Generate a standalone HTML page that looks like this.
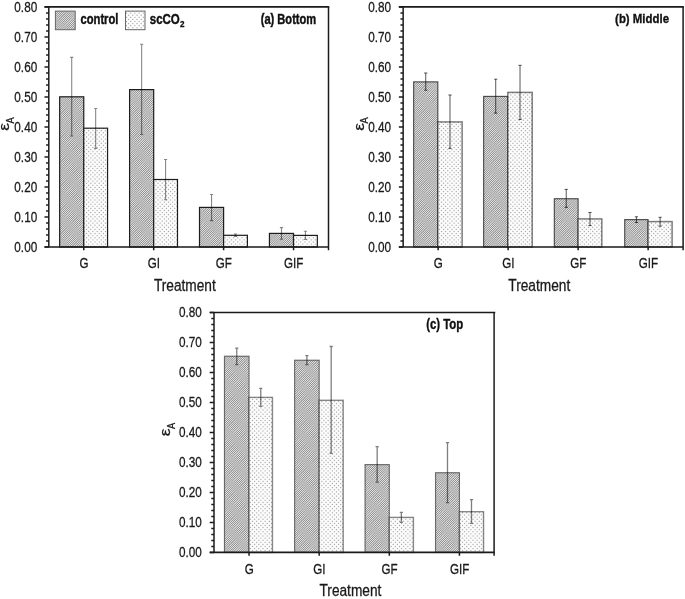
<!DOCTYPE html>
<html><head><meta charset="utf-8"><title>Figure</title>
<style>
html,body{margin:0;padding:0;background:#fff;}
body{width:685px;height:599px;overflow:hidden;font-family:"Liberation Sans", sans-serif;}
svg{display:block;font-family:"Liberation Sans", sans-serif;will-change:transform;filter:grayscale(1);}
</style></head>
<body>
<svg width="685" height="599" viewBox="0 0 685 599">
<defs>
<pattern id="pc" width="24" height="24" patternUnits="userSpaceOnUse">
<rect width="24" height="24" fill="#bababa"/>
<path fill="#909090" d="M1 0h1v1h-1zM23 0h1v1h-1zM0 1h1v1h-1zM22 1h1v1h-1zM23 2h1v1h-1zM6 4h1v1h-1zM5 5h1v1h-1zM7 5h1v1h-1zM4 6h1v1h-1zM6 6h1v1h-1zM5 7h1v1h-1zM7 7h1v1h-1zM4 8h1v1h-1zM13 10h1v1h-1zM10 11h1v1h-1zM12 11h1v1h-1zM11 12h1v1h-1zM13 12h1v1h-1zM10 13h1v1h-1zM12 13h1v1h-1zM11 14h1v1h-1zM18 16h1v1h-1zM17 17h1v1h-1zM19 17h1v1h-1zM16 18h1v1h-1zM18 18h1v1h-1zM17 19h1v1h-1zM19 19h1v1h-1zM16 20h1v1h-1zM1 22h1v1h-1zM0 23h1v1h-1zM22 23h1v1h-1z"/>
<path fill="#969696" d="M21 0h1v1h-1zM2 1h1v1h-1zM20 1h1v1h-1zM1 2h1v1h-1zM21 2h1v1h-1zM0 3h1v1h-1zM5 3h1v1h-1zM7 3h1v1h-1zM22 3h1v1h-1zM4 4h1v1h-1zM8 4h1v1h-1zM3 5h1v1h-1zM9 5h1v1h-1zM8 6h1v1h-1zM3 7h1v1h-1zM6 8h1v1h-1zM3 9h1v1h-1zM5 9h1v1h-1zM12 9h1v1h-1zM14 9h1v1h-1zM11 10h1v1h-1zM14 11h1v1h-1zM9 12h1v1h-1zM8 13h1v1h-1zM14 13h1v1h-1zM9 14h1v1h-1zM13 14h1v1h-1zM10 15h1v1h-1zM12 15h1v1h-1zM17 15h1v1h-1zM19 15h1v1h-1zM16 16h1v1h-1zM20 16h1v1h-1zM15 17h1v1h-1zM21 17h1v1h-1zM20 18h1v1h-1zM15 19h1v1h-1zM18 20h1v1h-1zM0 21h1v1h-1zM2 21h1v1h-1zM15 21h1v1h-1zM17 21h1v1h-1zM23 22h1v1h-1zM2 23h1v1h-1z"/>
<path fill="#9c9c9c" d="M3 0h1v1h-1zM6 2h1v1h-1zM8 2h1v1h-1zM19 2h1v1h-1zM9 3h1v1h-1zM20 3h1v1h-1zM10 4h1v1h-1zM21 4h1v1h-1zM23 4h1v1h-1zM2 6h1v1h-1zM1 7h1v1h-1zM9 7h1v1h-1zM2 8h1v1h-1zM8 8h1v1h-1zM13 8h1v1h-1zM7 9h1v1h-1zM10 9h1v1h-1zM4 10h1v1h-1zM9 10h1v1h-1zM15 10h1v1h-1zM8 11h1v1h-1zM16 11h1v1h-1zM15 12h1v1h-1zM7 14h1v1h-1zM18 14h1v1h-1zM20 14h1v1h-1zM8 15h1v1h-1zM21 15h1v1h-1zM9 16h1v1h-1zM11 16h1v1h-1zM22 16h1v1h-1zM14 18h1v1h-1zM13 19h1v1h-1zM21 19h1v1h-1zM1 20h1v1h-1zM14 20h1v1h-1zM20 20h1v1h-1zM19 21h1v1h-1zM22 21h1v1h-1zM3 22h1v1h-1zM16 22h1v1h-1zM21 22h1v1h-1zM4 23h1v1h-1zM20 23h1v1h-1z"/>
<path fill="#a2a2a2" d="M19 0h1v1h-1zM7 1h1v1h-1zM10 2h1v1h-1zM19 4h1v1h-1zM22 5h1v1h-1zM10 6h1v1h-1zM12 7h1v1h-1zM14 7h1v1h-1zM11 8h1v1h-1zM15 8h1v1h-1zM1 9h1v1h-1zM16 9h1v1h-1zM2 10h1v1h-1zM6 10h1v1h-1zM3 11h1v1h-1zM5 11h1v1h-1zM7 12h1v1h-1zM19 13h1v1h-1zM22 14h1v1h-1zM7 16h1v1h-1zM10 17h1v1h-1zM22 18h1v1h-1zM0 19h1v1h-1zM2 19h1v1h-1zM3 20h1v1h-1zM23 20h1v1h-1zM4 21h1v1h-1zM13 21h1v1h-1zM14 22h1v1h-1zM18 22h1v1h-1zM15 23h1v1h-1zM17 23h1v1h-1z"/>
<path fill="#a8a8a8" d="M8 0h1v1h-1zM16 0h1v1h-1zM4 1h1v1h-1zM9 1h1v1h-1zM18 1h1v1h-1zM3 2h1v1h-1zM4 2h1v1h-1zM2 3h1v1h-1zM3 3h1v1h-1zM11 3h1v1h-1zM18 3h1v1h-1zM1 4h1v1h-1zM2 4h1v1h-1zM1 5h1v1h-1zM11 5h1v1h-1zM20 5h1v1h-1zM13 6h1v1h-1zM21 6h1v1h-1zM16 7h1v1h-1zM0 8h1v1h-1zM17 8h1v1h-1zM0 10h1v1h-1zM17 10h1v1h-1zM1 11h1v1h-1zM4 12h1v1h-1zM20 12h1v1h-1zM6 13h1v1h-1zM16 13h1v1h-1zM21 13h1v1h-1zM15 14h1v1h-1zM16 14h1v1h-1zM6 15h1v1h-1zM14 15h1v1h-1zM15 15h1v1h-1zM23 15h1v1h-1zM13 16h1v1h-1zM14 16h1v1h-1zM8 17h1v1h-1zM13 17h1v1h-1zM23 17h1v1h-1zM1 18h1v1h-1zM9 18h1v1h-1zM4 19h1v1h-1zM5 20h1v1h-1zM12 20h1v1h-1zM5 22h1v1h-1zM12 22h1v1h-1zM13 23h1v1h-1z"/>
<path fill="#aeaeae" d="M5 0h1v1h-1zM6 0h1v1h-1zM10 0h1v1h-1zM14 0h1v1h-1zM5 1h1v1h-1zM11 1h1v1h-1zM15 1h1v1h-1zM12 2h1v1h-1zM17 2h1v1h-1zM12 4h1v1h-1zM17 4h1v1h-1zM0 5h1v1h-1zM14 5h1v1h-1zM18 5h1v1h-1zM0 6h1v1h-1zM15 6h1v1h-1zM19 6h1v1h-1zM23 6h1v1h-1zM23 7h1v1h-1zM18 9h1v1h-1zM23 9h1v1h-1zM18 11h1v1h-1zM2 12h1v1h-1zM17 12h1v1h-1zM18 12h1v1h-1zM22 12h1v1h-1zM3 13h1v1h-1zM17 13h1v1h-1zM23 13h1v1h-1zM0 14h1v1h-1zM5 14h1v1h-1zM0 16h1v1h-1zM5 16h1v1h-1zM2 17h1v1h-1zM6 17h1v1h-1zM12 17h1v1h-1zM3 18h1v1h-1zM7 18h1v1h-1zM11 18h1v1h-1zM12 18h1v1h-1zM11 19h1v1h-1zM6 21h1v1h-1zM11 21h1v1h-1zM6 23h1v1h-1z"/>
<path fill="#b4b4b4" d="M12 0h1v1h-1zM13 1h1v1h-1zM13 3h1v1h-1zM16 3h1v1h-1zM16 5h1v1h-1zM17 6h1v1h-1zM18 7h1v1h-1zM20 7h1v1h-1zM22 7h1v1h-1zM19 8h1v1h-1zM21 8h1v1h-1zM22 8h1v1h-1zM19 10h1v1h-1zM20 10h1v1h-1zM22 10h1v1h-1zM19 11h1v1h-1zM21 11h1v1h-1zM23 11h1v1h-1zM0 12h1v1h-1zM1 13h1v1h-1zM1 15h1v1h-1zM4 15h1v1h-1zM4 17h1v1h-1zM5 18h1v1h-1zM6 19h1v1h-1zM8 19h1v1h-1zM10 19h1v1h-1zM7 20h1v1h-1zM9 20h1v1h-1zM10 20h1v1h-1zM7 22h1v1h-1zM8 22h1v1h-1zM10 22h1v1h-1zM7 23h1v1h-1zM9 23h1v1h-1zM11 23h1v1h-1z"/>
<path fill="#c0c0c0" d="M11 0h1v1h-1zM12 1h1v1h-1zM14 1h1v1h-1zM16 1h1v1h-1zM13 2h1v1h-1zM15 2h1v1h-1zM16 2h1v1h-1zM13 4h1v1h-1zM14 4h1v1h-1zM16 4h1v1h-1zM13 5h1v1h-1zM15 5h1v1h-1zM17 5h1v1h-1zM18 6h1v1h-1zM19 7h1v1h-1zM19 9h1v1h-1zM22 9h1v1h-1zM22 11h1v1h-1zM23 12h1v1h-1zM0 13h1v1h-1zM2 13h1v1h-1zM4 13h1v1h-1zM1 14h1v1h-1zM3 14h1v1h-1zM4 14h1v1h-1zM1 16h1v1h-1zM2 16h1v1h-1zM4 16h1v1h-1zM1 17h1v1h-1zM3 17h1v1h-1zM5 17h1v1h-1zM6 18h1v1h-1zM7 19h1v1h-1zM7 21h1v1h-1zM10 21h1v1h-1zM10 23h1v1h-1z"/>
<path fill="#c6c6c6" d="M9 0h1v1h-1zM13 0h1v1h-1zM17 0h1v1h-1zM18 0h1v1h-1zM17 1h1v1h-1zM12 3h1v1h-1zM17 3h1v1h-1zM12 5h1v1h-1zM11 6h1v1h-1zM12 6h1v1h-1zM16 6h1v1h-1zM20 6h1v1h-1zM11 7h1v1h-1zM17 7h1v1h-1zM21 7h1v1h-1zM18 8h1v1h-1zM23 8h1v1h-1zM18 10h1v1h-1zM23 10h1v1h-1zM0 11h1v1h-1zM6 11h1v1h-1zM20 11h1v1h-1zM1 12h1v1h-1zM5 12h1v1h-1zM6 12h1v1h-1zM21 12h1v1h-1zM5 13h1v1h-1zM0 15h1v1h-1zM5 15h1v1h-1zM0 17h1v1h-1zM0 18h1v1h-1zM4 18h1v1h-1zM8 18h1v1h-1zM23 18h1v1h-1zM5 19h1v1h-1zM9 19h1v1h-1zM23 19h1v1h-1zM6 20h1v1h-1zM11 20h1v1h-1zM6 22h1v1h-1zM11 22h1v1h-1zM8 23h1v1h-1zM12 23h1v1h-1zM18 23h1v1h-1z"/>
<path fill="#cccccc" d="M7 0h1v1h-1zM15 0h1v1h-1zM10 1h1v1h-1zM11 2h1v1h-1zM18 2h1v1h-1zM11 4h1v1h-1zM18 4h1v1h-1zM19 5h1v1h-1zM14 6h1v1h-1zM22 6h1v1h-1zM0 7h1v1h-1zM10 7h1v1h-1zM15 7h1v1h-1zM9 8h1v1h-1zM10 8h1v1h-1zM0 9h1v1h-1zM8 9h1v1h-1zM9 9h1v1h-1zM17 9h1v1h-1zM7 10h1v1h-1zM8 10h1v1h-1zM2 11h1v1h-1zM7 11h1v1h-1zM17 11h1v1h-1zM3 12h1v1h-1zM19 12h1v1h-1zM22 13h1v1h-1zM6 14h1v1h-1zM23 14h1v1h-1zM6 16h1v1h-1zM23 16h1v1h-1zM7 17h1v1h-1zM2 18h1v1h-1zM10 18h1v1h-1zM3 19h1v1h-1zM12 19h1v1h-1zM22 19h1v1h-1zM21 20h1v1h-1zM22 20h1v1h-1zM5 21h1v1h-1zM12 21h1v1h-1zM20 21h1v1h-1zM21 21h1v1h-1zM19 22h1v1h-1zM20 22h1v1h-1zM5 23h1v1h-1zM14 23h1v1h-1zM19 23h1v1h-1z"/>
<path fill="#d2d2d2" d="M4 0h1v1h-1zM6 1h1v1h-1zM8 1h1v1h-1zM5 2h1v1h-1zM9 2h1v1h-1zM10 3h1v1h-1zM19 3h1v1h-1zM0 4h1v1h-1zM20 4h1v1h-1zM21 5h1v1h-1zM23 5h1v1h-1zM1 6h1v1h-1zM13 7h1v1h-1zM16 8h1v1h-1zM1 10h1v1h-1zM4 11h1v1h-1zM16 12h1v1h-1zM18 13h1v1h-1zM20 13h1v1h-1zM17 14h1v1h-1zM21 14h1v1h-1zM7 15h1v1h-1zM22 15h1v1h-1zM8 16h1v1h-1zM12 16h1v1h-1zM9 17h1v1h-1zM11 17h1v1h-1zM13 18h1v1h-1zM1 19h1v1h-1zM4 20h1v1h-1zM13 22h1v1h-1zM16 23h1v1h-1z"/>
<path fill="#d8d8d8" d="M20 0h1v1h-1zM3 1h1v1h-1zM19 1h1v1h-1zM2 2h1v1h-1zM7 2h1v1h-1zM20 2h1v1h-1zM1 3h1v1h-1zM4 3h1v1h-1zM3 4h1v1h-1zM9 4h1v1h-1zM22 4h1v1h-1zM2 5h1v1h-1zM10 5h1v1h-1zM9 6h1v1h-1zM1 8h1v1h-1zM12 8h1v1h-1zM14 8h1v1h-1zM2 9h1v1h-1zM15 9h1v1h-1zM3 10h1v1h-1zM5 10h1v1h-1zM16 10h1v1h-1zM8 12h1v1h-1zM7 13h1v1h-1zM15 13h1v1h-1zM8 14h1v1h-1zM14 14h1v1h-1zM19 14h1v1h-1zM13 15h1v1h-1zM16 15h1v1h-1zM10 16h1v1h-1zM15 16h1v1h-1zM21 16h1v1h-1zM14 17h1v1h-1zM22 17h1v1h-1zM21 18h1v1h-1zM0 20h1v1h-1zM2 20h1v1h-1zM13 20h1v1h-1zM3 21h1v1h-1zM14 21h1v1h-1zM4 22h1v1h-1zM15 22h1v1h-1zM17 22h1v1h-1z"/>
<path fill="#dedede" d="M2 0h1v1h-1zM21 1h1v1h-1zM0 2h1v1h-1zM6 3h1v1h-1zM8 3h1v1h-1zM21 3h1v1h-1zM23 3h1v1h-1zM5 4h1v1h-1zM8 5h1v1h-1zM3 6h1v1h-1zM2 7h1v1h-1zM8 7h1v1h-1zM3 8h1v1h-1zM7 8h1v1h-1zM4 9h1v1h-1zM6 9h1v1h-1zM11 9h1v1h-1zM13 9h1v1h-1zM10 10h1v1h-1zM14 10h1v1h-1zM9 11h1v1h-1zM15 11h1v1h-1zM14 12h1v1h-1zM9 13h1v1h-1zM12 14h1v1h-1zM9 15h1v1h-1zM11 15h1v1h-1zM18 15h1v1h-1zM20 15h1v1h-1zM17 16h1v1h-1zM20 17h1v1h-1zM15 18h1v1h-1zM14 19h1v1h-1zM20 19h1v1h-1zM15 20h1v1h-1zM19 20h1v1h-1zM1 21h1v1h-1zM16 21h1v1h-1zM18 21h1v1h-1zM23 21h1v1h-1zM2 22h1v1h-1zM22 22h1v1h-1zM3 23h1v1h-1zM21 23h1v1h-1z"/>
<path fill="#e4e4e4" d="M0 0h1v1h-1zM22 0h1v1h-1zM1 1h1v1h-1zM23 1h1v1h-1zM22 2h1v1h-1zM7 4h1v1h-1zM4 5h1v1h-1zM6 5h1v1h-1zM5 6h1v1h-1zM7 6h1v1h-1zM4 7h1v1h-1zM6 7h1v1h-1zM5 8h1v1h-1zM12 10h1v1h-1zM11 11h1v1h-1zM13 11h1v1h-1zM10 12h1v1h-1zM12 12h1v1h-1zM11 13h1v1h-1zM13 13h1v1h-1zM10 14h1v1h-1zM19 16h1v1h-1zM16 17h1v1h-1zM18 17h1v1h-1zM17 18h1v1h-1zM19 18h1v1h-1zM16 19h1v1h-1zM18 19h1v1h-1zM17 20h1v1h-1zM0 22h1v1h-1zM1 23h1v1h-1zM23 23h1v1h-1z"/>
</pattern>
<pattern id="ps" width="21" height="21" patternUnits="userSpaceOnUse">
<rect width="21" height="21" fill="#fcfcfc"/>
<path fill="#a8a8a8" d="M0 0h1v1h-1z"/>
<path fill="#acacac" d="M2 2h1v1h-1zM19 2h1v1h-1zM2 19h1v1h-1zM19 19h1v1h-1z"/>
<path fill="#b0b0b0" d="M4 0h1v1h-1zM17 0h1v1h-1zM0 4h1v1h-1zM0 17h1v1h-1z"/>
<path fill="#b4b4b4" d="M4 4h1v1h-1zM17 4h1v1h-1zM4 17h1v1h-1zM17 17h1v1h-1z"/>
<path fill="#b8b8b8" d="M6 2h1v1h-1zM15 2h1v1h-1zM2 6h1v1h-1zM19 6h1v1h-1zM2 15h1v1h-1zM19 15h1v1h-1zM6 19h1v1h-1zM15 19h1v1h-1z"/>
<path fill="#c0c0c0" d="M8 0h1v1h-1zM13 0h1v1h-1zM0 8h1v1h-1zM0 13h1v1h-1z"/>
<path fill="#c4c4c4" d="M6 6h1v1h-1zM15 6h1v1h-1zM6 15h1v1h-1zM15 15h1v1h-1z"/>
<path fill="#c8c8c8" d="M8 4h1v1h-1zM13 4h1v1h-1zM4 8h1v1h-1zM17 8h1v1h-1zM4 13h1v1h-1zM17 13h1v1h-1zM8 17h1v1h-1zM13 17h1v1h-1z"/>
<path fill="#cccccc" d="M10 2h1v1h-1zM11 2h1v1h-1zM2 10h1v1h-1zM19 10h1v1h-1zM2 11h1v1h-1zM19 11h1v1h-1zM10 19h1v1h-1zM11 19h1v1h-1z"/>
<path fill="#d4d4d4" d="M10 6h1v1h-1zM11 6h1v1h-1zM8 8h1v1h-1zM13 8h1v1h-1zM6 10h1v1h-1zM15 10h1v1h-1zM6 11h1v1h-1zM15 11h1v1h-1zM8 13h1v1h-1zM13 13h1v1h-1zM10 15h1v1h-1zM11 15h1v1h-1z"/>
<path fill="#d8d8d8" d="M9 0h1v1h-1zM12 0h1v1h-1zM0 9h1v1h-1zM0 12h1v1h-1z"/>
<path fill="#dcdcdc" d="M9 4h1v1h-1zM12 4h1v1h-1zM4 9h1v1h-1zM17 9h1v1h-1zM4 12h1v1h-1zM17 12h1v1h-1zM9 17h1v1h-1zM12 17h1v1h-1z"/>
<path fill="#e0e0e0" d="M7 2h1v1h-1zM14 2h1v1h-1zM2 7h1v1h-1zM19 7h1v1h-1zM10 10h1v1h-1zM11 10h1v1h-1zM10 11h1v1h-1zM11 11h1v1h-1zM2 14h1v1h-1zM19 14h1v1h-1zM7 19h1v1h-1zM14 19h1v1h-1z"/>
<path fill="#e4e4e4" d="M7 6h1v1h-1zM14 6h1v1h-1zM6 7h1v1h-1zM15 7h1v1h-1zM9 8h1v1h-1zM12 8h1v1h-1zM8 9h1v1h-1zM13 9h1v1h-1zM8 12h1v1h-1zM13 12h1v1h-1zM9 13h1v1h-1zM12 13h1v1h-1zM6 14h1v1h-1zM15 14h1v1h-1zM7 15h1v1h-1zM14 15h1v1h-1z"/>
<path fill="#e8e8e8" d="M5 0h1v1h-1zM16 0h1v1h-1zM5 4h1v1h-1zM16 4h1v1h-1zM0 5h1v1h-1zM4 5h1v1h-1zM17 5h1v1h-1zM0 16h1v1h-1zM4 16h1v1h-1zM17 16h1v1h-1zM5 17h1v1h-1zM16 17h1v1h-1z"/>
<path fill="#ececec" d="M10 7h1v1h-1zM11 7h1v1h-1zM9 9h1v1h-1zM12 9h1v1h-1zM7 10h1v1h-1zM14 10h1v1h-1zM7 11h1v1h-1zM14 11h1v1h-1zM9 12h1v1h-1zM12 12h1v1h-1zM10 14h1v1h-1zM11 14h1v1h-1z"/>
<path fill="#f0f0f0" d="M3 2h1v1h-1zM18 2h1v1h-1zM2 3h1v1h-1zM6 3h1v1h-1zM15 3h1v1h-1zM19 3h1v1h-1zM8 5h1v1h-1zM13 5h1v1h-1zM3 6h1v1h-1zM18 6h1v1h-1zM5 8h1v1h-1zM16 8h1v1h-1zM5 13h1v1h-1zM16 13h1v1h-1zM3 15h1v1h-1zM18 15h1v1h-1zM8 16h1v1h-1zM13 16h1v1h-1zM2 18h1v1h-1zM6 18h1v1h-1zM15 18h1v1h-1zM19 18h1v1h-1zM3 19h1v1h-1zM18 19h1v1h-1z"/>
<path fill="#f4f4f4" d="M1 0h1v1h-1zM20 0h1v1h-1zM0 1h1v1h-1zM4 1h1v1h-1zM8 1h1v1h-1zM13 1h1v1h-1zM17 1h1v1h-1zM10 3h1v1h-1zM11 3h1v1h-1zM1 4h1v1h-1zM20 4h1v1h-1zM9 5h1v1h-1zM12 5h1v1h-1zM7 7h1v1h-1zM14 7h1v1h-1zM1 8h1v1h-1zM20 8h1v1h-1zM5 9h1v1h-1zM16 9h1v1h-1zM3 10h1v1h-1zM18 10h1v1h-1zM3 11h1v1h-1zM18 11h1v1h-1zM5 12h1v1h-1zM16 12h1v1h-1zM1 13h1v1h-1zM20 13h1v1h-1zM7 14h1v1h-1zM14 14h1v1h-1zM9 16h1v1h-1zM12 16h1v1h-1zM1 17h1v1h-1zM20 17h1v1h-1zM10 18h1v1h-1zM11 18h1v1h-1zM0 20h1v1h-1zM4 20h1v1h-1zM8 20h1v1h-1zM13 20h1v1h-1zM17 20h1v1h-1z"/>
<path fill="#f8f8f8" d="M3 0h1v1h-1zM18 0h1v1h-1zM2 1h1v1h-1zM5 1h1v1h-1zM6 1h1v1h-1zM9 1h1v1h-1zM10 1h1v1h-1zM11 1h1v1h-1zM12 1h1v1h-1zM15 1h1v1h-1zM16 1h1v1h-1zM19 1h1v1h-1zM1 2h1v1h-1zM20 2h1v1h-1zM0 3h1v1h-1zM3 3h1v1h-1zM4 3h1v1h-1zM7 3h1v1h-1zM8 3h1v1h-1zM13 3h1v1h-1zM14 3h1v1h-1zM17 3h1v1h-1zM18 3h1v1h-1zM3 4h1v1h-1zM18 4h1v1h-1zM1 5h1v1h-1zM5 5h1v1h-1zM16 5h1v1h-1zM20 5h1v1h-1zM1 6h1v1h-1zM20 6h1v1h-1zM3 7h1v1h-1zM18 7h1v1h-1zM3 8h1v1h-1zM18 8h1v1h-1zM1 9h1v1h-1zM20 9h1v1h-1zM1 10h1v1h-1zM20 10h1v1h-1zM1 11h1v1h-1zM20 11h1v1h-1zM1 12h1v1h-1zM20 12h1v1h-1zM3 13h1v1h-1zM18 13h1v1h-1zM3 14h1v1h-1zM18 14h1v1h-1zM1 15h1v1h-1zM20 15h1v1h-1zM1 16h1v1h-1zM5 16h1v1h-1zM16 16h1v1h-1zM20 16h1v1h-1zM3 17h1v1h-1zM18 17h1v1h-1zM0 18h1v1h-1zM3 18h1v1h-1zM4 18h1v1h-1zM7 18h1v1h-1zM8 18h1v1h-1zM13 18h1v1h-1zM14 18h1v1h-1zM17 18h1v1h-1zM18 18h1v1h-1zM1 19h1v1h-1zM20 19h1v1h-1zM2 20h1v1h-1zM5 20h1v1h-1zM6 20h1v1h-1zM9 20h1v1h-1zM10 20h1v1h-1zM11 20h1v1h-1zM12 20h1v1h-1zM15 20h1v1h-1zM16 20h1v1h-1zM19 20h1v1h-1z"/>
</pattern>
</defs>
<rect width="685" height="599" fill="#fff"/>
<rect x="59.66" y="96.80" width="24.10" height="150.20" fill="url(#pc)" stroke="#1c1c1c" stroke-width="1.2"/>
<rect x="83.76" y="128.20" width="23.80" height="118.80" fill="url(#ps)" stroke="#1c1c1c" stroke-width="1.2"/>
<rect x="129.59" y="89.60" width="24.10" height="157.40" fill="url(#pc)" stroke="#1c1c1c" stroke-width="1.2"/>
<rect x="153.69" y="179.50" width="23.80" height="67.50" fill="url(#ps)" stroke="#1c1c1c" stroke-width="1.2"/>
<rect x="199.51" y="207.40" width="24.10" height="39.60" fill="url(#pc)" stroke="#1c1c1c" stroke-width="1.2"/>
<rect x="223.61" y="235.30" width="23.80" height="11.70" fill="url(#ps)" stroke="#1c1c1c" stroke-width="1.2"/>
<rect x="269.44" y="233.40" width="24.10" height="13.60" fill="url(#pc)" stroke="#1c1c1c" stroke-width="1.2"/>
<rect x="293.54" y="235.40" width="23.80" height="11.60" fill="url(#ps)" stroke="#1c1c1c" stroke-width="1.2"/>
<path d="M71.71 57.40V136.00M70.11 57.40H73.31M70.11 136.00H73.31" stroke="#000" stroke-opacity="0.47" stroke-width="1.1" fill="none"/>
<path d="M95.66 108.50V148.40M94.06 108.50H97.26M94.06 148.40H97.26" stroke="#000" stroke-opacity="0.47" stroke-width="1.1" fill="none"/>
<path d="M141.64 44.20V134.50M140.04 44.20H143.24M140.04 134.50H143.24" stroke="#000" stroke-opacity="0.47" stroke-width="1.1" fill="none"/>
<path d="M165.59 159.50V199.70M163.99 159.50H167.19M163.99 199.70H167.19" stroke="#000" stroke-opacity="0.47" stroke-width="1.1" fill="none"/>
<path d="M211.56 194.50V220.60M209.96 194.50H213.16M209.96 220.60H213.16" stroke="#000" stroke-opacity="0.47" stroke-width="1.1" fill="none"/>
<path d="M235.51 234.00V236.40M233.91 234.00H237.11M233.91 236.40H237.11" stroke="#000" stroke-opacity="0.47" stroke-width="1.1" fill="none"/>
<path d="M281.49 227.60V239.20M279.89 227.60H283.09M279.89 239.20H283.09" stroke="#000" stroke-opacity="0.47" stroke-width="1.1" fill="none"/>
<path d="M305.44 231.20V239.40M303.84 231.20H307.04M303.84 239.40H307.04" stroke="#000" stroke-opacity="0.47" stroke-width="1.1" fill="none"/>
<path d="M48.80 247.00V6.95M328.50 6.95V250.20" fill="none" stroke="#1c1c1c" stroke-width="1.5"/>
<path d="M44.50 247.00H328.50M44.50 6.95H329.25" fill="none" stroke="#1a1a1a" stroke-width="1.7"/>
<path d="M44.50 247.00H48.80M46.10 241.00H48.80M46.10 235.00H48.80M46.10 229.00H48.80M46.10 223.00H48.80M44.50 216.99H48.80M46.10 210.99H48.80M46.10 204.99H48.80M46.10 198.99H48.80M46.10 192.99H48.80M44.50 186.99H48.80M46.10 180.99H48.80M46.10 174.98H48.80M46.10 168.98H48.80M46.10 162.98H48.80M44.50 156.98H48.80M46.10 150.98H48.80M46.10 144.98H48.80M46.10 138.98H48.80M46.10 132.98H48.80M44.50 126.97H48.80M46.10 120.97H48.80M46.10 114.97H48.80M46.10 108.97H48.80M46.10 102.97H48.80M44.50 96.97H48.80M46.10 90.97H48.80M46.10 84.97H48.80M46.10 78.96H48.80M46.10 72.96H48.80M44.50 66.96H48.80M46.10 60.96H48.80M46.10 54.96H48.80M46.10 48.96H48.80M46.10 42.96H48.80M44.50 36.96H48.80M46.10 30.95H48.80M46.10 24.95H48.80M46.10 18.95H48.80M46.10 12.95H48.80M44.50 6.95H48.80" stroke="#1c1c1c" stroke-width="1.4" fill="none"/>
<path d="M83.76 247.00V250.20M153.69 247.00V250.20M223.61 247.00V250.20M293.54 247.00V250.20" stroke="#1c1c1c" stroke-width="1.5" fill="none"/>
<text transform="translate(37.20 251.65) scale(0.768 1)" text-anchor="end" font-size="15.3" fill="#1a1a1a" stroke="#1a1a1a" stroke-width="0.3">0.00</text>
<text transform="translate(37.20 221.64) scale(0.768 1)" text-anchor="end" font-size="15.3" fill="#1a1a1a" stroke="#1a1a1a" stroke-width="0.3">0.10</text>
<text transform="translate(37.20 191.64) scale(0.768 1)" text-anchor="end" font-size="15.3" fill="#1a1a1a" stroke="#1a1a1a" stroke-width="0.3">0.20</text>
<text transform="translate(37.20 161.63) scale(0.768 1)" text-anchor="end" font-size="15.3" fill="#1a1a1a" stroke="#1a1a1a" stroke-width="0.3">0.30</text>
<text transform="translate(37.20 131.62) scale(0.768 1)" text-anchor="end" font-size="15.3" fill="#1a1a1a" stroke="#1a1a1a" stroke-width="0.3">0.40</text>
<text transform="translate(37.20 101.62) scale(0.768 1)" text-anchor="end" font-size="15.3" fill="#1a1a1a" stroke="#1a1a1a" stroke-width="0.3">0.50</text>
<text transform="translate(37.20 71.61) scale(0.768 1)" text-anchor="end" font-size="15.3" fill="#1a1a1a" stroke="#1a1a1a" stroke-width="0.3">0.60</text>
<text transform="translate(37.20 41.61) scale(0.768 1)" text-anchor="end" font-size="15.3" fill="#1a1a1a" stroke="#1a1a1a" stroke-width="0.3">0.70</text>
<text transform="translate(37.20 11.60) scale(0.768 1)" text-anchor="end" font-size="15.3" fill="#1a1a1a" stroke="#1a1a1a" stroke-width="0.3">0.80</text>
<text transform="translate(83.96 268.10) scale(0.775 1)" text-anchor="middle" font-size="15" fill="#1a1a1a" stroke="#1a1a1a" stroke-width="0.3">G</text>
<text transform="translate(153.89 268.10) scale(0.775 1)" text-anchor="middle" font-size="15" fill="#1a1a1a" stroke="#1a1a1a" stroke-width="0.3">GI</text>
<text transform="translate(223.81 268.10) scale(0.775 1)" text-anchor="middle" font-size="15" fill="#1a1a1a" stroke="#1a1a1a" stroke-width="0.3">GF</text>
<text transform="translate(293.74 268.10) scale(0.775 1)" text-anchor="middle" font-size="15" fill="#1a1a1a" stroke="#1a1a1a" stroke-width="0.3">GIF</text>
<text transform="translate(184.80 291.00) scale(0.825 1)" text-anchor="middle" font-size="16.6" fill="#1a1a1a" stroke="#1a1a1a" stroke-width="0.3">Treatment</text>
<g transform="translate(9.20 130.78) rotate(-90)"><text font-size="15.4" fill="#1a1a1a" stroke="#1a1a1a" stroke-width="0.25" transform="scale(1.14 1)">ε</text><text font-size="10.5" fill="#1a1a1a" stroke="#1a1a1a" stroke-width="0.25" transform="translate(7.25 4.8) scale(0.88 1)">A</text></g>
<text x="260.70" y="23.65" font-size="14.6" font-weight="bold" fill="#111" stroke="#111" stroke-width="0.45" textLength="55.5" lengthAdjust="spacingAndGlyphs">(a) Bottom</text>
<rect x="55.40" y="11.10" width="19.8" height="18.60" fill="url(#pc)" stroke="#666" stroke-width="1"/>
<text x="80.50" y="24.35" font-size="14.6" font-weight="bold" fill="#111" stroke="#111" stroke-width="0.45" textLength="37.9" lengthAdjust="spacingAndGlyphs">control</text>
<rect x="125.50" y="11.10" width="19.5" height="18.60" fill="url(#ps)" stroke="#666" stroke-width="1"/>
<text x="149.80" y="24.35" font-size="14.6" font-weight="bold" fill="#111" stroke="#111" stroke-width="0.45" textLength="30" lengthAdjust="spacingAndGlyphs">scCO</text>
<text x="180.10" y="26.95" font-size="9.0" font-weight="bold" fill="#111" stroke="#111" stroke-width="0.3" textLength="4.5" lengthAdjust="spacingAndGlyphs">2</text>
<rect x="413.64" y="81.85" width="24.20" height="165.15" fill="url(#pc)" stroke="#000" stroke-opacity="0.66" stroke-width="1.15"/>
<rect x="437.84" y="121.90" width="24.30" height="125.10" fill="url(#ps)" stroke="#000" stroke-opacity="0.5" stroke-width="1.5"/>
<rect x="483.63" y="96.40" width="24.20" height="150.60" fill="url(#pc)" stroke="#000" stroke-opacity="0.66" stroke-width="1.15"/>
<rect x="507.83" y="92.40" width="24.40" height="154.60" fill="url(#ps)" stroke="#000" stroke-opacity="0.5" stroke-width="1.5"/>
<rect x="554.32" y="198.70" width="23.80" height="48.30" fill="url(#pc)" stroke="#000" stroke-opacity="0.66" stroke-width="1.15"/>
<rect x="578.12" y="218.90" width="23.70" height="28.10" fill="url(#ps)" stroke="#000" stroke-opacity="0.5" stroke-width="1.5"/>
<rect x="624.71" y="219.60" width="23.40" height="27.40" fill="url(#pc)" stroke="#000" stroke-opacity="0.66" stroke-width="1.15"/>
<rect x="648.11" y="221.60" width="24.00" height="25.40" fill="url(#ps)" stroke="#000" stroke-opacity="0.5" stroke-width="1.5"/>
<path d="M425.74 73.00V90.20M424.14 73.00H427.34M424.14 90.20H427.34" stroke="#000" stroke-opacity="0.66" stroke-width="1.0" fill="none"/>
<path d="M449.99 95.00V148.40M448.39 95.00H451.59M448.39 148.40H451.59" stroke="#000" stroke-opacity="0.66" stroke-width="1.0" fill="none"/>
<path d="M495.73 79.20V113.10M494.13 79.20H497.33M494.13 113.10H497.33" stroke="#000" stroke-opacity="0.66" stroke-width="1.0" fill="none"/>
<path d="M520.03 65.30V119.50M518.43 65.30H521.63M518.43 119.50H521.63" stroke="#000" stroke-opacity="0.66" stroke-width="1.0" fill="none"/>
<path d="M566.22 189.40V207.40M564.62 189.40H567.82M564.62 207.40H567.82" stroke="#000" stroke-opacity="0.66" stroke-width="1.0" fill="none"/>
<path d="M589.97 212.50V225.60M588.37 212.50H591.57M588.37 225.60H591.57" stroke="#000" stroke-opacity="0.66" stroke-width="1.0" fill="none"/>
<path d="M636.41 216.80V222.50M634.81 216.80H638.01M634.81 222.50H638.01" stroke="#000" stroke-opacity="0.66" stroke-width="1.0" fill="none"/>
<path d="M660.11 217.30V226.20M658.51 217.30H661.71M658.51 226.20H661.71" stroke="#000" stroke-opacity="0.66" stroke-width="1.0" fill="none"/>
<path d="M403.15 247.00V6.95M683.10 6.95V250.20" fill="none" stroke="#1c1c1c" stroke-width="1.5"/>
<path d="M398.85 247.00H683.10M398.85 6.95H683.85" fill="none" stroke="#1a1a1a" stroke-width="1.7"/>
<path d="M398.85 247.00H403.15M400.45 241.00H403.15M400.45 235.00H403.15M400.45 229.00H403.15M400.45 223.00H403.15M398.85 216.99H403.15M400.45 210.99H403.15M400.45 204.99H403.15M400.45 198.99H403.15M400.45 192.99H403.15M398.85 186.99H403.15M400.45 180.99H403.15M400.45 174.98H403.15M400.45 168.98H403.15M400.45 162.98H403.15M398.85 156.98H403.15M400.45 150.98H403.15M400.45 144.98H403.15M400.45 138.98H403.15M400.45 132.98H403.15M398.85 126.97H403.15M400.45 120.97H403.15M400.45 114.97H403.15M400.45 108.97H403.15M400.45 102.97H403.15M398.85 96.97H403.15M400.45 90.97H403.15M400.45 84.97H403.15M400.45 78.96H403.15M400.45 72.96H403.15M398.85 66.96H403.15M400.45 60.96H403.15M400.45 54.96H403.15M400.45 48.96H403.15M400.45 42.96H403.15M398.85 36.96H403.15M400.45 30.95H403.15M400.45 24.95H403.15M400.45 18.95H403.15M400.45 12.95H403.15M398.85 6.95H403.15" stroke="#1c1c1c" stroke-width="1.4" fill="none"/>
<path d="M438.14 247.00V250.20M508.13 247.00V250.20M578.12 247.00V250.20M648.11 247.00V250.20" stroke="#1c1c1c" stroke-width="1.5" fill="none"/>
<text transform="translate(391.05 251.65) scale(0.768 1)" text-anchor="end" font-size="15.3" fill="#1a1a1a" stroke="#1a1a1a" stroke-width="0.3">0.00</text>
<text transform="translate(391.05 221.64) scale(0.768 1)" text-anchor="end" font-size="15.3" fill="#1a1a1a" stroke="#1a1a1a" stroke-width="0.3">0.10</text>
<text transform="translate(391.05 191.64) scale(0.768 1)" text-anchor="end" font-size="15.3" fill="#1a1a1a" stroke="#1a1a1a" stroke-width="0.3">0.20</text>
<text transform="translate(391.05 161.63) scale(0.768 1)" text-anchor="end" font-size="15.3" fill="#1a1a1a" stroke="#1a1a1a" stroke-width="0.3">0.30</text>
<text transform="translate(391.05 131.62) scale(0.768 1)" text-anchor="end" font-size="15.3" fill="#1a1a1a" stroke="#1a1a1a" stroke-width="0.3">0.40</text>
<text transform="translate(391.05 101.62) scale(0.768 1)" text-anchor="end" font-size="15.3" fill="#1a1a1a" stroke="#1a1a1a" stroke-width="0.3">0.50</text>
<text transform="translate(391.05 71.61) scale(0.768 1)" text-anchor="end" font-size="15.3" fill="#1a1a1a" stroke="#1a1a1a" stroke-width="0.3">0.60</text>
<text transform="translate(391.05 41.61) scale(0.768 1)" text-anchor="end" font-size="15.3" fill="#1a1a1a" stroke="#1a1a1a" stroke-width="0.3">0.70</text>
<text transform="translate(391.05 11.60) scale(0.768 1)" text-anchor="end" font-size="15.3" fill="#1a1a1a" stroke="#1a1a1a" stroke-width="0.3">0.80</text>
<text transform="translate(438.34 268.10) scale(0.775 1)" text-anchor="middle" font-size="15" fill="#1a1a1a" stroke="#1a1a1a" stroke-width="0.3">G</text>
<text transform="translate(508.33 268.10) scale(0.775 1)" text-anchor="middle" font-size="15" fill="#1a1a1a" stroke="#1a1a1a" stroke-width="0.3">GI</text>
<text transform="translate(578.32 268.10) scale(0.775 1)" text-anchor="middle" font-size="15" fill="#1a1a1a" stroke="#1a1a1a" stroke-width="0.3">GF</text>
<text transform="translate(648.31 268.10) scale(0.775 1)" text-anchor="middle" font-size="15" fill="#1a1a1a" stroke="#1a1a1a" stroke-width="0.3">GIF</text>
<text transform="translate(539.27 291.00) scale(0.825 1)" text-anchor="middle" font-size="16.6" fill="#1a1a1a" stroke="#1a1a1a" stroke-width="0.3">Treatment</text>
<g transform="translate(363.55 130.78) rotate(-90)"><text font-size="15.4" fill="#1a1a1a" stroke="#1a1a1a" stroke-width="0.25" transform="scale(1.14 1)">ε</text><text font-size="10.5" fill="#1a1a1a" stroke="#1a1a1a" stroke-width="0.25" transform="translate(7.25 4.8) scale(0.88 1)">A</text></g>
<text x="615.10" y="23.35" font-size="13.6" font-weight="bold" fill="#111" stroke="#111" stroke-width="0.35" textLength="53.9" lengthAdjust="spacingAndGlyphs">(b) Middle</text>
<rect x="224.46" y="356.20" width="24.60" height="196.25" fill="url(#pc)" stroke="#000" stroke-opacity="0.52" stroke-width="1.15"/>
<rect x="249.06" y="397.40" width="23.40" height="155.05" fill="url(#ps)" stroke="#000" stroke-opacity="0.46" stroke-width="1.4"/>
<rect x="294.59" y="360.20" width="24.60" height="192.25" fill="url(#pc)" stroke="#000" stroke-opacity="0.52" stroke-width="1.15"/>
<rect x="319.19" y="400.30" width="24.00" height="152.15" fill="url(#ps)" stroke="#000" stroke-opacity="0.46" stroke-width="1.4"/>
<rect x="365.01" y="464.60" width="24.30" height="87.85" fill="url(#pc)" stroke="#000" stroke-opacity="0.52" stroke-width="1.15"/>
<rect x="389.31" y="517.40" width="24.10" height="35.05" fill="url(#ps)" stroke="#000" stroke-opacity="0.46" stroke-width="1.4"/>
<rect x="435.54" y="472.70" width="23.90" height="79.75" fill="url(#pc)" stroke="#000" stroke-opacity="0.52" stroke-width="1.15"/>
<rect x="459.44" y="511.70" width="24.10" height="40.75" fill="url(#ps)" stroke="#000" stroke-opacity="0.46" stroke-width="1.4"/>
<path d="M236.76 348.10V364.60M235.16 348.10H238.36M235.16 364.60H238.36" stroke="#000" stroke-opacity="0.5" stroke-width="1.3" fill="none"/>
<path d="M260.76 388.40V406.40M259.16 388.40H262.36M259.16 406.40H262.36" stroke="#000" stroke-opacity="0.5" stroke-width="1.3" fill="none"/>
<path d="M306.89 355.60V364.60M305.29 355.60H308.49M305.29 364.60H308.49" stroke="#000" stroke-opacity="0.5" stroke-width="1.3" fill="none"/>
<path d="M331.19 346.50V453.30M329.59 346.50H332.79M329.59 453.30H332.79" stroke="#000" stroke-opacity="0.5" stroke-width="1.3" fill="none"/>
<path d="M377.16 446.70V482.20M375.56 446.70H378.76M375.56 482.20H378.76" stroke="#000" stroke-opacity="0.5" stroke-width="1.3" fill="none"/>
<path d="M401.36 512.40V522.30M399.76 512.40H402.96M399.76 522.30H402.96" stroke="#000" stroke-opacity="0.5" stroke-width="1.3" fill="none"/>
<path d="M447.49 442.60V502.70M445.89 442.60H449.09M445.89 502.70H449.09" stroke="#000" stroke-opacity="0.5" stroke-width="1.3" fill="none"/>
<path d="M471.49 499.60V523.40M469.89 499.60H473.09M469.89 523.40H473.09" stroke="#000" stroke-opacity="0.5" stroke-width="1.3" fill="none"/>
<path d="M214.00 552.45V312.50M494.10 312.50V555.65" fill="none" stroke="#1c1c1c" stroke-width="1.5"/>
<path d="M209.70 552.45H494.50M209.70 312.50H495.25" fill="none" stroke="#1a1a1a" stroke-width="1.7"/>
<path d="M209.70 552.45H214.00M211.30 546.45H214.00M211.30 540.45H214.00M211.30 534.45H214.00M211.30 528.46H214.00M209.70 522.46H214.00M211.30 516.46H214.00M211.30 510.46H214.00M211.30 504.46H214.00M211.30 498.46H214.00M209.70 492.46H214.00M211.30 486.46H214.00M211.30 480.47H214.00M211.30 474.47H214.00M211.30 468.47H214.00M209.70 462.47H214.00M211.30 456.47H214.00M211.30 450.47H214.00M211.30 444.47H214.00M211.30 438.47H214.00M209.70 432.48H214.00M211.30 426.48H214.00M211.30 420.48H214.00M211.30 414.48H214.00M211.30 408.48H214.00M209.70 402.48H214.00M211.30 396.48H214.00M211.30 390.48H214.00M211.30 384.49H214.00M211.30 378.49H214.00M209.70 372.49H214.00M211.30 366.49H214.00M211.30 360.49H214.00M211.30 354.49H214.00M211.30 348.49H214.00M209.70 342.49H214.00M211.30 336.50H214.00M211.30 330.50H214.00M211.30 324.50H214.00M211.30 318.50H214.00M209.70 312.50H214.00" stroke="#1c1c1c" stroke-width="1.4" fill="none"/>
<path d="M249.06 552.45V555.65M319.19 552.45V555.65M389.31 552.45V555.65M459.44 552.45V555.65" stroke="#1c1c1c" stroke-width="1.5" fill="none"/>
<text transform="translate(201.90 557.10) scale(0.768 1)" text-anchor="end" font-size="15.3" fill="#1a1a1a" stroke="#1a1a1a" stroke-width="0.3">0.00</text>
<text transform="translate(201.90 527.11) scale(0.768 1)" text-anchor="end" font-size="15.3" fill="#1a1a1a" stroke="#1a1a1a" stroke-width="0.3">0.10</text>
<text transform="translate(201.90 497.11) scale(0.768 1)" text-anchor="end" font-size="15.3" fill="#1a1a1a" stroke="#1a1a1a" stroke-width="0.3">0.20</text>
<text transform="translate(201.90 467.12) scale(0.768 1)" text-anchor="end" font-size="15.3" fill="#1a1a1a" stroke="#1a1a1a" stroke-width="0.3">0.30</text>
<text transform="translate(201.90 437.12) scale(0.768 1)" text-anchor="end" font-size="15.3" fill="#1a1a1a" stroke="#1a1a1a" stroke-width="0.3">0.40</text>
<text transform="translate(201.90 407.13) scale(0.768 1)" text-anchor="end" font-size="15.3" fill="#1a1a1a" stroke="#1a1a1a" stroke-width="0.3">0.50</text>
<text transform="translate(201.90 377.14) scale(0.768 1)" text-anchor="end" font-size="15.3" fill="#1a1a1a" stroke="#1a1a1a" stroke-width="0.3">0.60</text>
<text transform="translate(201.90 347.14) scale(0.768 1)" text-anchor="end" font-size="15.3" fill="#1a1a1a" stroke="#1a1a1a" stroke-width="0.3">0.70</text>
<text transform="translate(201.90 317.15) scale(0.768 1)" text-anchor="end" font-size="15.3" fill="#1a1a1a" stroke="#1a1a1a" stroke-width="0.3">0.80</text>
<text transform="translate(249.26 573.55) scale(0.775 1)" text-anchor="middle" font-size="15" fill="#1a1a1a" stroke="#1a1a1a" stroke-width="0.3">G</text>
<text transform="translate(319.39 573.55) scale(0.775 1)" text-anchor="middle" font-size="15" fill="#1a1a1a" stroke="#1a1a1a" stroke-width="0.3">GI</text>
<text transform="translate(389.51 573.55) scale(0.775 1)" text-anchor="middle" font-size="15" fill="#1a1a1a" stroke="#1a1a1a" stroke-width="0.3">GF</text>
<text transform="translate(459.64 573.55) scale(0.775 1)" text-anchor="middle" font-size="15" fill="#1a1a1a" stroke="#1a1a1a" stroke-width="0.3">GIF</text>
<text transform="translate(350.40 596.45) scale(0.825 1)" text-anchor="middle" font-size="16.6" fill="#1a1a1a" stroke="#1a1a1a" stroke-width="0.3">Treatment</text>
<g transform="translate(169.70 436.28) rotate(-90)"><text font-size="15.4" fill="#1a1a1a" stroke="#1a1a1a" stroke-width="0.25" transform="scale(1.14 1)">ε</text><text font-size="10.5" fill="#1a1a1a" stroke="#1a1a1a" stroke-width="0.25" transform="translate(7.25 4.8) scale(0.88 1)">A</text></g>
<text x="426.20" y="329.20" font-size="13.8" font-weight="bold" fill="#111" stroke="#111" stroke-width="0.35" textLength="37.1" lengthAdjust="spacingAndGlyphs">(c) Top</text>
</svg>
</body></html>
